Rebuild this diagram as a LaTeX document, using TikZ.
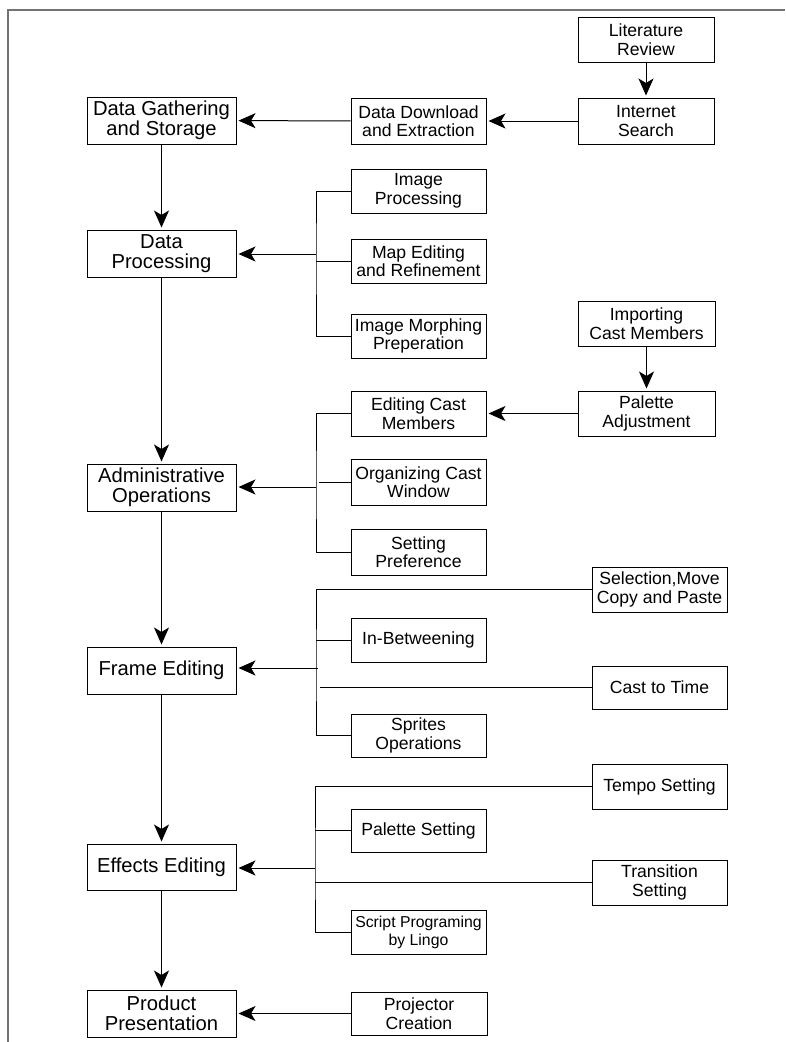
\documentclass[tikz,border=0pt]{standalone}
\usepackage{fontspec}
\setmainfont{Liberation Sans}
\usetikzlibrary{arrows.meta,calc}
\tikzset{
  box/.style={draw=black, line width=1pt, align=center, inner sep=0pt,
    minimum width=135pt, minimum height=45pt,
    font=\fontsize{17.6}{18.5}\selectfont},
  bigbox/.style={box, minimum width=149pt, minimum height=47pt,
    font=\fontsize{20.2}{20.5}\selectfont},
  link/.style={draw=black, line width=1pt},
  arr/.style={link, -{Stealth[length=17pt, width=15pt, inset=4.5pt]}, shorten >=2pt},
  frameline/.style={draw=black!55, line width=1.6pt}
}
\begin{document}
\begin{tikzpicture}[x=1pt, y=-1pt]
\useasboundingbox (0,0) rectangle (785,1042);
\coordinate (f1) at (785,10);
\coordinate (f2) at (8,10);
\coordinate (f3) at (8,1042);
\draw[frameline] (f1) -- (f2) -- (f3);

% top row
\node[box, minimum width=136pt] (lit) at (646,39.5) {Literature\\Review};
\node[box, minimum width=136pt, minimum height=46pt] (inet) at (646,121) {Internet\\Search};
\node[box, minimum height=46pt] (ddx) at (418.5,121) {Data Download\\and Extraction};
\node[bigbox] (dgs) at (161.5,120.5) {Data Gathering\\and Storage};

% data processing group
\node[box, minimum height=44pt] (ip) at (418.5,191) {Image\\Processing};
\node[box, minimum height=44pt] (mr) at (418.5,261) {Map Editing\\and Refinement};
\node[box, minimum height=44pt] (mp) at (418.5,336) {Image Morphing\\Preperation};
\node[bigbox] (dp) at (161.5,253.5) {Data\\Processing};

% administrative group
\node[box, minimum width=137pt] (icm) at (646.5,323.5) {Importing\\Cast Members};
\node[box, minimum width=137pt] (pa) at (646.5,413.5) {Palette\\Adjustment};
\node[box] (ecm) at (418.5,413.5) {Editing Cast\\Members};
\node[box, minimum height=46pt] (ocw) at (418.5,482) {Organizing Cast\\Window};
\node[box, minimum height=46pt] (sp) at (418.5,552) {Setting\\Preference};
\node[bigbox] (ao) at (161.5,487.5) {Administrative\\Operations};

% frame editing group
\node[box] (scp) at (659.5,589.5) {Selection,Move\\Copy and Paste};
\node[box, minimum height=44pt] (ib) at (418.5,640) {In-Betweening};
\node[box, minimum height=43pt] (ctt) at (659.5,687.5) {Cast to Time};
\node[box, minimum height=43pt] (so) at (418.5,735.5) {Sprites\\Operations};
\node[bigbox] (fe) at (161.5,670.5) {Frame Editing};

% effects group
\node[box] (ts) at (659.5,786.5) {Tempo Setting};
\node[box, minimum height=43pt] (ps) at (418.5,830.5) {Palette Setting};
\node[box] (trs) at (659.5,882.5) {Transition\\Setting};
\node[box, minimum height=44pt, font=\fontsize{15.8}{18}\selectfont] (spl) at (418.5,932) {Script Programing\\by Lingo};
\node[bigbox, minimum height=46pt] (ee) at (161.5,867) {Effects Editing};

% product
\node[box, minimum width=136pt, minimum height=43pt] (pc) at (419,1013.5) {Projector\\Creation};
\node[bigbox] (pp) at (161.5,1013.5) {Product\\Presentation};

% junction coordinates
\coordinate (g1) at (316,254);
\coordinate (g2) at (316,487);
\coordinate (g3) at (316,668);
\coordinate (g4) at (315,868);

% top connectors
\draw[arr] (lit) -- (inet);
\draw[arr] (inet) -- (ddx);
\draw[arr] (ddx) -- (dgs);

% main column
\draw[arr] (dgs) -- (dp);
\draw[arr] (dp) -- (ao);
\draw[arr] (ao) -- (fe);
\draw[arr] (fe) -- (ee);
\draw[arr] (ee) -- (pp);
\draw[arr] (pc) -- (pp);

% group 1
\draw[link] (ip.west) -| (g1) |- (mp.west);
\draw[link] (mr.west) -- (mr.west -| g1);
\draw[arr] (g1) -- (g1 -| dp.east);

% group 2
\draw[arr] (icm) -- (pa);
\draw[arr] (pa) -- (ecm);
\draw[link] (ecm.west) -| (g2) |- (sp.west);
\draw[link] (ocw.west) -- ([xshift=3pt]ocw.west -| g2);
\draw[arr] (g2) -- (g2 -| ao.east);

% group 3
\draw[link] (scp.west) -| (g3) |- (so.west);
\draw[link] (ib.west) -- (ib.west -| g3);
\draw[link] (ctt.west) -- ([xshift=4pt]ctt.west -| g3);
\draw[arr] ([xshift=2pt]g3) -- (g3 -| fe.east);

% group 4
\draw[link] (ts.west) -| (g4) |- (spl.west);
\draw[link] (ps.west) -- (ps.west -| g4);
\draw[link] (trs.west) -- (trs.west -| g4);
\draw[arr] (g4) -- (g4 -| ee.east);
\end{tikzpicture}
\end{document}
